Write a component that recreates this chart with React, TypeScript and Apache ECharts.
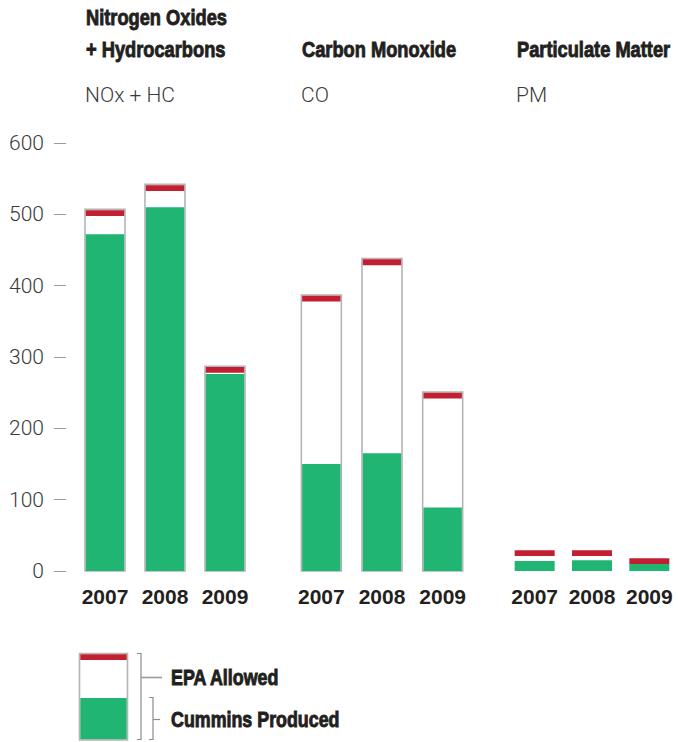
import React, { useEffect, useRef } from "react";
import * as echarts from "echarts";

const years = ["2007", "2008", "2009"];
const noxAllowed = [507, 542, 287];
const noxProduced = [472, 510, 276];
const coAllowed = [387, 438, 251];
const coProduced = [150, 165, 89];
const pmAllowed = [29, 29, 18];
const pmProduced = [14, 15, 10];
const yTicks = [0, 100, 200, 300, 400, 500, 600];

const GREEN = "#21b573";
const RED = "#c21f32";
const OUTLINE = "#b4b4b4";
const BOLD_FONT = '"Liberation Sans", Arial, sans-serif';
const LIGHT_FONT = 'Roboto, "Liberation Sans", sans-serif';

function makeRender(outlined: boolean) {
  return (params: any, api: any) => {
    const idx = api.value(0);
    const produced = api.value(1);
    const allowed = api.value(2);
    const base = api.coord([idx, 0]);
    const cx = base[0];
    const y0 = base[1];
    const yTop = api.coord([idx, allowed])[1];
    const yGreen = api.coord([idx, produced])[1];
    const w = 40;
    const children: any[] = [];
    if (outlined) {
      children.push({
        type: "rect",
        shape: { x: cx - w / 2, y: yTop, width: w, height: y0 - yTop },
        style: { fill: "#ffffff", stroke: OUTLINE, lineWidth: 1.6 },
      });
      children.push({
        type: "rect",
        shape: { x: cx - w / 2 + 0.8, y: yGreen, width: w - 1.6, height: y0 - yGreen },
        style: { fill: GREEN },
      });
      children.push({
        type: "rect",
        shape: { x: cx - w / 2 + 0.8, y: yTop + 0.8, width: w - 1.6, height: 5.8 },
        style: { fill: RED },
      });
    } else {
      children.push({
        type: "rect",
        shape: { x: cx - w / 2, y: yGreen, width: w, height: y0 - yGreen },
        style: { fill: GREEN },
      });
      children.push({
        type: "rect",
        shape: { x: cx - w / 2, y: yTop, width: w, height: 5.8 },
        style: { fill: RED },
      });
    }
    return { type: "group", children };
  };
}

export default function App() {
  const ref = useRef<HTMLDivElement>(null);
  useEffect(() => {
    if (!ref.current) return;
    const chart = echarts.init(ref.current, null, { renderer: "svg" });
    const grids = [
      { left: 75, top: 143, width: 180, height: 428 },
      { left: 291, top: 143, width: 182, height: 428 },
      { left: 506, top: 143, width: 180, height: 428 },
    ];
    const xAxes = grids.map((_, i) => ({
      type: "category",
      gridIndex: i,
      data: years,
      axisLine: { show: false },
      axisTick: { show: false },
      axisLabel: {
        interval: 0,
        margin: 15,
        fontFamily: BOLD_FONT,
        fontWeight: "bold",
        fontSize: 21,
        color: "#231f20",
      },
    }));
    const yAxes = grids.map((_, i) => ({
      type: "value",
      gridIndex: i,
      min: 0,
      max: 600,
      interval: 100,
      show: i === 0,
      offset: 9,
      splitLine: { show: false },
      axisLine: { show: false },
      axisTick: { show: true, length: 12, lineStyle: { color: "#9a9a9a", width: 1 } },
      axisLabel: {
        margin: 22,
        fontFamily: LIGHT_FONT,
        fontWeight: 300,
        fontSize: 21,
        color: "#3a3a3a",
        formatter: (v: number) => (yTicks.includes(v) ? String(v) : ""),
      },
    }));
    const groups = [
      { produced: noxProduced, allowed: noxAllowed, outlined: true },
      { produced: coProduced, allowed: coAllowed, outlined: true },
      { produced: pmProduced, allowed: pmAllowed, outlined: false },
    ];
    const series = groups.map((g, i) => ({
      type: "custom",
      xAxisIndex: i,
      yAxisIndex: i,
      renderItem: makeRender(g.outlined),
      encode: { x: 0, y: [1, 2] },
      data: years.map((_, j) => [j, g.produced[j], g.allowed[j]]),
    }));

    const condensed = (text: string, x: number, y: number, size: number) => ({
      type: "text",
      x,
      y,
      scaleX: 0.83,
      style: {
        text,
        font: `bold ${size}px ${BOLD_FONT}`,
        fill: "#231f20",
        stroke: "#231f20",
        lineWidth: 0.9,
        verticalAlign: "top",
        align: "left",
      },
    });
    const sub = (text: string, x: number, y: number) => ({
      type: "text",
      x,
      y,
      style: {
        text,
        font: `300 21px ${LIGHT_FONT}`,
        fill: "#3a3a3a",
        verticalAlign: "top",
        align: "left",
      },
    });
    const lineStroke = { stroke: "#8c8c8c", lineWidth: 1.2, fill: "none" };

    chart.setOption({
      animation: false,
      grid: grids,
      xAxis: xAxes,
      yAxis: yAxes,
      series,
      graphic: [
        condensed("Nitrogen Oxides", 86, 6, 22),
        condensed("+ Hydrocarbons", 86, 38, 22),
        condensed("Carbon Monoxide", 302, 38, 22),
        condensed("Particulate Matter", 517, 38, 22),
        sub("NOx + HC", 85, 84),
        sub("CO", 301, 84),
        sub("PM", 516, 84),
        {
          type: "rect",
          shape: { x: 79.5, y: 653.5, width: 48, height: 86.5 },
          style: { fill: "#ffffff", stroke: OUTLINE, lineWidth: 1.6 },
        },
        {
          type: "rect",
          shape: { x: 80.3, y: 654.3, width: 46.4, height: 5.6 },
          style: { fill: RED },
        },
        {
          type: "rect",
          shape: { x: 80.3, y: 698, width: 46.4, height: 41.2 },
          style: { fill: GREEN },
        },
        {
          type: "polyline",
          shape: { points: [[137, 653.5], [141, 653.5], [141, 739.5], [137, 739.5]] },
          style: lineStroke,
        },
        {
          type: "line",
          shape: { x1: 141, y1: 677.5, x2: 162, y2: 677.5 },
          style: { stroke: "#9a9a9a", lineWidth: 1.6 },
        },
        {
          type: "polyline",
          shape: { points: [[149, 697.5], [153, 697.5], [153, 739.5], [149, 739.5]] },
          style: lineStroke,
        },
        {
          type: "line",
          shape: { x1: 153, y1: 719.5, x2: 160, y2: 719.5 },
          style: lineStroke,
        },
        condensed("EPA Allowed", 171, 666, 21.5),
        condensed("Cummins Produced", 171, 708, 21.5),
      ],
    });
    return () => chart.dispose();
  }, []);
  return (
    <div
      ref={ref}
      style={{ position: "fixed", left: 0, top: 0, width: 678, height: 742, background: "#ffffff" }}
    />
  );
}
